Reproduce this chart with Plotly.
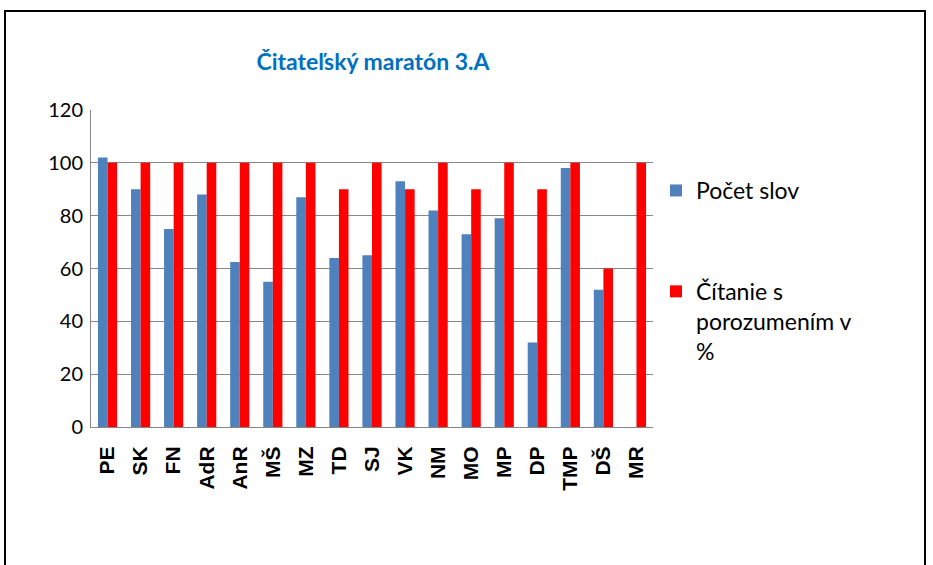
import plotly.graph_objects as go

students = ["PE", "SK", "FN", "AdR", "AnR", "MŠ", "MZ", "TD", "SJ", "VK", "NM", "MO", "MP", "DP", "TMP", "DŠ", "MR"]
pocet_slov = [102, 90, 75, 88, 62.5, 55, 87, 64, 65, 93, 82, 73, 79, 32, 98, 52, 0]
citanie_pct = [100, 100, 100, 100, 100, 100, 100, 90, 100, 90, 100, 90, 100, 90, 100, 60, 100]
y_ticks = [0, 20, 40, 60, 80, 100, 120]

W, H = 933, 565
L, R, T, B = 91, 653, 110, 427  # plot area in window pixels
pw, ph = R - L, B - T

def px_x(x):
    return (x - L) / pw

def px_y(y):
    return (B - y) / ph

fig = go.Figure()
fig.add_trace(go.Bar(x=students, y=pocet_slov, name="Počet slov",
                     marker=dict(color="#4F81BD", line=dict(width=0)),
                     legendgroup="a"))
fig.add_trace(go.Bar(x=students, y=citanie_pct, name="Čítanie s<br>porozumením v<br>%",
                     marker=dict(color="#FF0000", line=dict(width=0)),
                     legendgroup="b"))

fig.update_layout(
    width=W, height=H,
    margin=dict(l=L, r=W - R, t=T, b=H - B, pad=0),
    paper_bgcolor="white", plot_bgcolor="white",
    barmode="group", bargap=0.42, bargroupgap=0,
    title=dict(text="Čitateľský maratón 3.A", x=px_x(373), xref="paper",
               y=1 - 62 / H, yref="container", xanchor="center", yanchor="middle",
               font=dict(family="Lato", size=23, color="#0070C0", weight="bold")),
    font=dict(family="Lato", color="#000000"),
    showlegend=True,
    legend=dict(x=px_x(656), y=px_y(169), xanchor="left", yanchor="top",
                font=dict(family="Lato", size=23, color="#000000"),
                tracegroupgap=68, valign="top", itemwidth=30,
                bgcolor="rgba(0,0,0,0)"),
    shapes=[dict(type="rect", xref="paper", yref="paper",
                 x0=px_x(5), x1=px_x(925), y0=px_y(600), y1=px_y(11),
                 line=dict(color="#000000", width=2), fillcolor="rgba(0,0,0,0)",
                 layer="above")],
)

fig.update_xaxes(
    type="category", tickangle=-90, showgrid=False,
    showline=True, linecolor="#868686", linewidth=1,
    ticks="", ticklabelstandoff=10,
    tickfont=dict(family="Liberation Sans", size=21, color="#000000", weight="bold"),
)
fig.update_yaxes(
    range=[0, 120], tickvals=y_ticks, ticktext=[str(v) for v in y_ticks],
    showgrid=True, gridcolor="#868686", gridwidth=1,
    showline=True, linecolor="#868686", linewidth=1,
    ticks="", zeroline=False, ticklabelstandoff=3,
    tickfont=dict(family="Lato", size=20, color="#000000"),
)

fig.write_html("out.html", config={"displayModeBar": False},
               post_script="document.body.style.margin='0';document.body.style.overflow='hidden';")
